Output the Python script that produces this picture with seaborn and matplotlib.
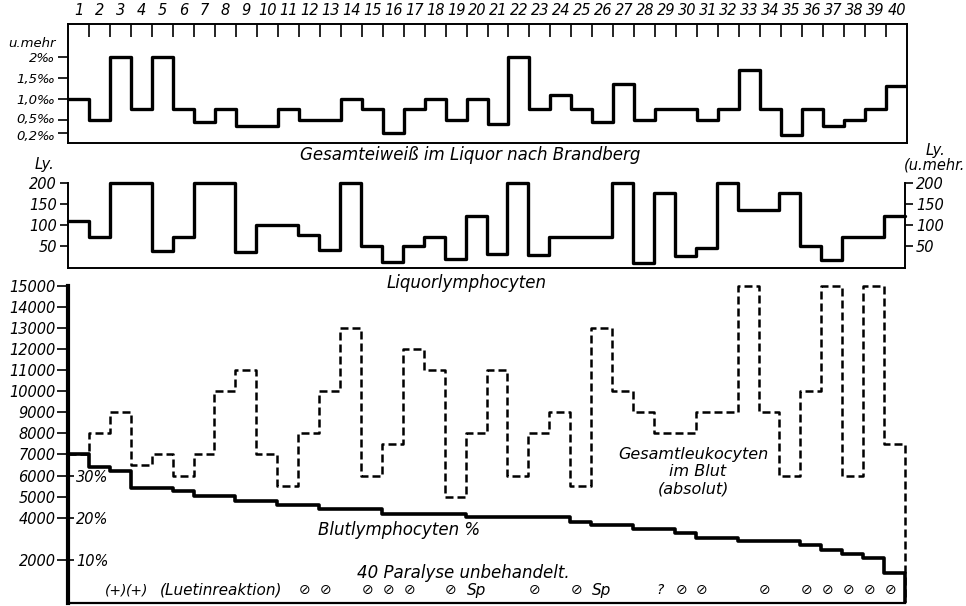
import numpy as np
import pandas as pd
import matplotlib
matplotlib.use("Agg")
import matplotlib.pyplot as plt
import matplotlib.transforms as mtransforms
import seaborn as sns

# 40 untreated paralysis cases, one step per patient
patients = list(range(1, 41))

# Gesamteiweiß im Liquor (promille)
eiweiss = [1.0, 0.5, 2.0, 0.75, 2.0, 0.75, 0.45, 0.75, 0.35, 0.35,
           0.75, 0.5, 0.5, 1.0, 0.75, 0.2, 0.75, 1.0, 0.5, 1.0,
           0.4, 2.0, 0.75, 1.1, 0.75, 0.45, 1.35, 0.5, 0.75, 0.75,
           0.5, 0.75, 1.7, 0.75, 0.15, 0.75, 0.35, 0.5, 0.75, 1.3]

# Liquorlymphocyten (Zellen)
liquor_ly = [110, 70, 200, 200, 38, 70, 200, 200, 35, 100,
             100, 75, 40, 200, 50, 12, 50, 70, 18, 120,
             30, 200, 28, 70, 70, 70, 200, 10, 175, 25,
             45, 200, 135, 135, 175, 50, 15, 70, 70, 120]

# Gesamtleukocyten im Blut (absolut)
leuko = [7000, 8000, 9000, 6500, 7000, 6000, 7000, 10000, 11000, 7000,
         5500, 8000, 10000, 13000, 6000, 7500, 12000, 11000, 5000, 8000,
         11000, 6000, 8000, 9000, 5500, 13000, 10000, 9000, 8000, 8000,
         9000, 9000, 15000, 9000, 6000, 10000, 15000, 6000, 15000, 7500]

# Blutlymphocyten %
blut_ly_pct = [35, 32, 31, 27, 27, 26.3, 25.2, 25.2, 24, 24,
               23, 23, 22, 22, 22, 21, 21, 21, 21, 20.2,
               20.2, 20.2, 20.2, 20.2, 19.1, 18.3, 18.3, 17.3, 17.3, 16.3,
               15.3, 15.3, 14.4, 14.4, 14.4, 13.6, 12.4, 11.4, 10.4, 6.9]

# Luetinreaktion row
luetin_patients = [3, 4, 12, 13, 15, 16, 17, 19, 20, 23, 25, 26, 29, 30, 31,
                   34, 36, 37, 38, 39, 40]
luetin_marks = ["(+)", "(+)", "⊘", "⊘", "⊘", "⊘", "⊘", "⊘", "Sp", "⊘", "⊘", "Sp",
                "?", "⊘", "⊘", "⊘", "⊘", "⊘", "⊘", "⊘", "⊘"]

eiweiss_ticks = [0.2, 0.5, 1.0, 1.5, 2.0, 2.36]
eiweiss_labels = ["0,2‰", "0,5‰", "1,0‰", "1,5‰", "2‰", "u.mehr"]
ly_ticks = [50, 100, 150, 200]
leuko_ticks = [2000, 4000, 5000, 6000, 7000, 8000, 9000, 10000,
               11000, 12000, 13000, 14000, 15000]
pct_ticks = [10, 20, 30]

sns.set_theme(style="white")
plt.rcParams["font.family"] = ["DejaVu Sans", "Noto Sans"]
plt.rcParams["font.style"] = "italic"
plt.rcParams["text.color"] = "black"
plt.rcParams["xtick.color"] = "black"
plt.rcParams["ytick.color"] = "black"

FS = 10.5


def stairs(values, drop=False):
    # step edges 0..40, last value repeated so steps-post closes the last patient
    x = list(range(len(values) + 1))
    y = list(values) + [values[-1]]
    if drop:
        x.append(len(values))
        y.append(0)
    return pd.DataFrame({"x": x, "y": y})


W, H = 966, 606
fig = plt.figure(figsize=(W / 100, H / 100), dpi=100)


def box(x0, y0, x1, y1):
    return [x0 / W, 1 - y1 / H, (x1 - x0) / W, (y1 - y0) / H]


# ---- top panel: Gesamteiweiß
ax1 = fig.add_axes(box(68, 24, 907, 143))
sns.lineplot(data=stairs(eiweiss), x="x", y="y", drawstyle="steps-post",
             estimator=None, sort=False, color="black", lw=2.4, ax=ax1)
ax1.set_xlim(0, 40)
ax1.set_ylim(-0.05, 2.79)
for s in ax1.spines.values():
    s.set_visible(True)
    s.set_linewidth(1.4)
    s.set_color("black")
ax1.xaxis.tick_top()
ax1.set_xticks([p - 0.5 for p in patients], labels=[str(p) for p in patients])
ax1.set_xticks(range(1, 40), minor=True)
ax1.tick_params(axis="x", which="major", length=0, pad=4, labelsize=FS)
ax1.tick_params(axis="x", which="minor", top=True, bottom=False, direction="in",
                length=9, width=1.2)
ax1.set_yticks(eiweiss_ticks, labels=eiweiss_labels)
ax1.tick_params(axis="y", left=True, direction="out", length=7, width=1.2,
                pad=2, labelsize=9.5)
ax1.yaxis.get_major_ticks()[-1].tick1line.set_visible(False)
# the two lowest labels sit very close, nudge them apart a little
ylabs = ax1.get_yticklabels()
ylabs[0].set_transform(ylabs[0].get_transform()
                       + mtransforms.ScaledTranslation(0, -2 / 72, fig.dpi_scale_trans))
ylabs[1].set_transform(ylabs[1].get_transform()
                       + mtransforms.ScaledTranslation(0, 1.5 / 72, fig.dpi_scale_trans))
ax1.set_xlabel("")
ax1.set_ylabel("")
fig.text(470 / W, 1 - 155 / H, "Gesamteiweiß im Liquor nach Brandberg",
         ha="center", va="center", fontsize=12)

# ---- middle panel: Liquorlymphocyten
ax2 = fig.add_axes(box(68, 183, 905, 268))
sns.lineplot(data=stairs(liquor_ly), x="x", y="y", drawstyle="steps-post",
             estimator=None, sort=False, color="black", lw=2.4, ax=ax2,
             clip_on=False)
ax2.set_xlim(0, 40)
ax2.set_ylim(-3, 200)
ax2.spines["top"].set_visible(False)
for k in ["left", "right", "bottom"]:
    ax2.spines[k].set_visible(True)
    ax2.spines[k].set_linewidth(1.4)
    ax2.spines[k].set_color("black")
ax2.set_xticks([])
ax2.set_yticks(ly_ticks, labels=[str(v) for v in ly_ticks])
ax2.tick_params(axis="y", left=True, right=True, labelleft=True, labelright=True,
                direction="out", length=6, width=1.2, pad=2, labelsize=FS)
ax2.set_xlabel("")
ax2.set_ylabel("")
fig.text(44 / W, 1 - 165 / H, "Ly.", ha="center", va="center", fontsize=FS)
fig.text(935 / W, 1 - 150 / H, "Ly.", ha="center", va="center", fontsize=FS)
fig.text(935 / W, 1 - 165 / H, "(u.mehr.", ha="center", va="center", fontsize=FS)
fig.text(467 / W, 1 - 283 / H, "Liquorlymphocyten",
         ha="center", va="center", fontsize=12)

# ---- bottom panel: Leukocyten + Blutlymphocyten %
ax3 = fig.add_axes(box(68, 285.7, 905, 603))
leuko_df = stairs(leuko, drop=True)
pct_df = stairs([p * 200 for p in blut_ly_pct], drop=True)
sns.lineplot(data=leuko_df, x="x", y="y", drawstyle="steps-post",
             estimator=None, sort=False, color="black", lw=1.8,
             dashes=False, ax=ax3, clip_on=False)
ax3.lines[-1].set_linestyle((0, (3.2, 1.6)))
sns.lineplot(data=pct_df, x="x", y="y", drawstyle="steps-post",
             estimator=None, sort=False, color="black", lw=2.6, ax=ax3,
             clip_on=False)
ax3.set_xlim(0, 40)
ax3.set_ylim(-40, 15000)
ax3.spines["top"].set_visible(False)
ax3.spines["right"].set_visible(False)
ax3.spines["left"].set_visible(True)
ax3.spines["left"].set_linewidth(3)
ax3.spines["left"].set_color("black")
ax3.spines["bottom"].set_visible(True)
ax3.spines["bottom"].set_linewidth(1.6)
ax3.spines["bottom"].set_color("black")
ax3.set_xticks([])
ax3.set_yticks(leuko_ticks, labels=[str(v) for v in leuko_ticks])
ax3.tick_params(axis="y", left=True, direction="out", length=8, width=1.2,
                pad=1, labelsize=FS)
ax3.set_xlabel("")
ax3.set_ylabel("")

sec = ax3.secondary_yaxis(0, functions=(lambda v: v / 200, lambda p: p * 200))
sec.set_yticks(pct_ticks, labels=[f"{v}%" for v in pct_ticks])
sec.tick_params(axis="y", left=False, labelleft=False, right=True, labelright=True,
                length=4, width=1.2, direction="out", pad=2, labelsize=FS)
sec.spines["left"].set_visible(False)

for p, m in zip(luetin_patients, luetin_marks):
    ax3.text(p - 0.5 - (0.0 if m == "Sp" else 0.2), 560, m, ha="center",
             va="center", fontsize=10 if m != "Sp" else 11)
ax3.text(7.3, 560, "(Luetinreaktion)", ha="center", va="center", fontsize=11)
ax3.text(18.9, 1380, "40 Paralyse unbehandelt.", ha="center", va="center",
         fontsize=12)
ax3.text(15.8, 3420, "Blutlymphocyten %", ha="center", va="center", fontsize=12)
ax3.text(29.9, 6976, "Gesamtleukocyten", ha="center", va="center", fontsize=11.5)
ax3.text(30.1, 6170, "im Blut", ha="center", va="center", fontsize=11.5)
ax3.text(29.9, 5365, "(absolut)", ha="center", va="center", fontsize=11.5)

fig.savefig("out.png", dpi=100)
